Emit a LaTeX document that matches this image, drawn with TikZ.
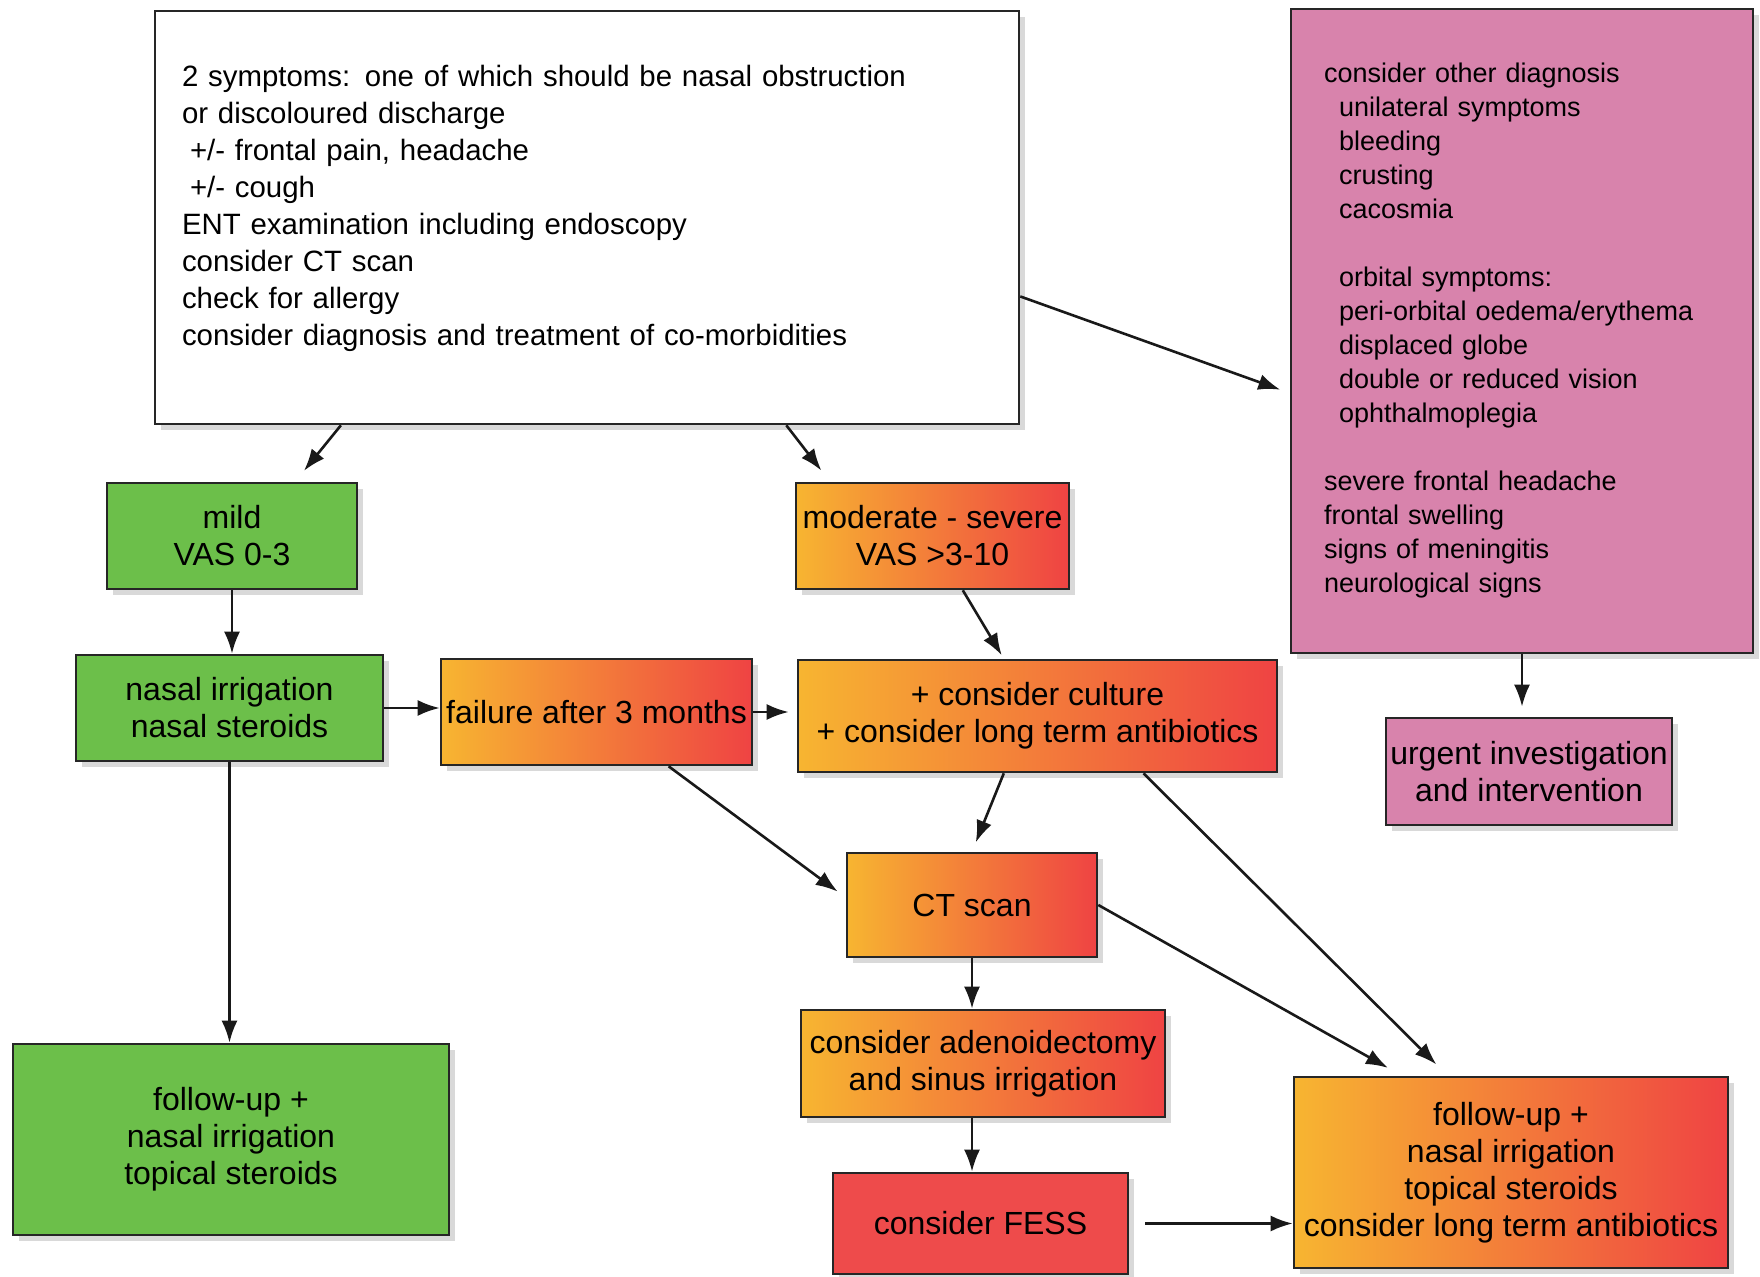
\documentclass[tikz,border=0pt]{standalone}
\usepackage{fontspec}
\setmainfont{Liberation Sans}
\usetikzlibrary{calc,arrows.meta,shadows}

\definecolor{leafgreen}{HTML}{6CBF4A}
\definecolor{warmamber}{HTML}{F7B531}
\definecolor{warmred}{HTML}{EF4343}
\definecolor{fessred}{HTML}{EE4B4B}
\definecolor{flagpink}{HTML}{D883AC}

\tikzset{
  box/.style={draw=black!85, line width=1.3pt, inner sep=0pt, align=center,
    font=\fontsize{16}{18.5}\selectfont,
    drop shadow={shadow xshift=3pt, shadow yshift=-3pt, opacity=0.3}},
  greenbox/.style={box, fill=leafgreen},
  warmbox/.style={box, left color=warmamber, right color=warmred},
  fessbox/.style={box, fill=fessred},
  pinkbox/.style={box, fill=flagpink},
  arr/.style={-{Latex[length=11pt,width=8pt]}, line width=1.3pt, draw=black!90}
}

\begin{document}
\begin{tikzpicture}[x=0.5pt,y=-0.5pt]
	%%%%% START %%%%%
	\useasboundingbox (0,0) rectangle (1760,1277);
	
	% assessment
	\node[box, fill=white, minimum width=432pt, minimum height=206.5pt, text width=405pt, align=left,
	  font=\fontsize{14.7}{18.5}\selectfont] (exam) at (587,217.5)
	  {2 symptoms: one of which should be nasal obstruction\\
	   or discoloured discharge\\
	   \hspace*{4pt}+/- frontal pain, headache\\
	   \hspace*{4pt}+/- cough\\
	   ENT examination including endoscopy\\
	   consider CT scan\\
	   check for allergy\\
	   consider diagnosis and treatment of co-morbidities\\[-6pt]\mbox{}};
	
	% red flags
	\node[pinkbox, minimum width=231pt, minimum height=322pt, text width=198pt, align=left,
	  font=\fontsize{13.5}{17}\selectfont] (redflag) at (1522,331)
	  {consider other diagnosis\\
	   \hspace*{7.5pt}unilateral symptoms\\
	   \hspace*{7.5pt}bleeding\\
	   \hspace*{7.5pt}crusting\\
	   \hspace*{7.5pt}cacosmia\\[17pt]
	   \hspace*{7.5pt}orbital symptoms:\\
	   \hspace*{7.5pt}peri-orbital oedema/erythema\\
	   \hspace*{7.5pt}displaced globe\\
	   \hspace*{7.5pt}double or reduced vision\\
	   \hspace*{7.5pt}ophthalmoplegia\\[17pt]
	   severe frontal headache\\
	   frontal swelling\\
	   signs of meningitis\\
	   neurological signs};
	\node[pinkbox, minimum width=143pt, minimum height=53.5pt] (urgent) at (1529,771.5)
	  {urgent investigation\\and intervention};
	
	% mild
	\node[greenbox, minimum width=125pt, minimum height=53pt] (mild) at (232,536) {mild\\VAS 0-3};
	\node[greenbox, minimum width=153.5pt, minimum height=53pt] (nasal) at (229.5,708)
	  {nasal irrigation\\nasal steroids};
	\node[greenbox, minimum width=218pt, minimum height=95.5pt] (fuL) at (231,1139.5)
	  {follow-up +\\nasal irrigation\\topical steroids};
	
	% moderate - severe
	\node[warmbox, minimum width=155.5pt, minimum height=53pt] (fail) at (596.5,712) {failure after 3 months};
	\node[warmbox, minimum width=136.5pt, minimum height=53pt] (moder) at (932.5,536)
	  {moderate - severe\\VAS >3-10};
	\node[warmbox, minimum width=239.5pt, minimum height=56pt] (cult) at (1037.5,716)
	  {+ consider culture\\+ consider long term antibiotics};
	\node[warmbox, minimum width=125pt, minimum height=52pt] (ct) at (972,905) {CT scan};
	\node[warmbox, minimum width=182pt, minimum height=53.5pt] (adeno) at (983,1063.5)
	  {consider adenoidectomy\\and sinus irrigation};
	\node[fessbox, minimum width=147.5pt, minimum height=50.5pt] (fess) at (980.5,1223.5) {consider FESS};
	\node[warmbox, minimum width=217pt, minimum height=95.5pt] (fuR) at (1511,1172.5)
	  {follow-up +\\nasal irrigation\\topical steroids\\consider long term antibiotics};
	
	% arrows
	\draw[arr, shorten >=7pt] ($(exam.south west)!.216!(exam.south east)$) -- ($(mild.north west)!.75!(mild.north east)$);
	\draw[arr, shorten >=7pt] ($(exam.south west)!.73!(exam.south east)$) -- ($(moder.north west)!.128!(moder.north east)$);
	\draw[arr, shorten >=5pt] ($(exam.north east)!.69!(exam.south east)$) -- ($(redflag.north west)!.596!(redflag.south west)$);
	\draw[arr] (mild.south) -- (mild.south |- nasal.north);
	\draw[arr] (nasal.east) -- (nasal.east -| fail.west);
	\draw[arr, shorten >=4pt] (fail.east) -- (fail.east -| cult.west);
	\draw[arr, shorten >=2pt] ($(moder.south west)!.61!(moder.south east)$) -- ($(cult.north west)!.43!(cult.north east)$);
	\draw[arr, shorten >=5pt] ($(fail.south west)!.73!(fail.south east)$) -- ($(ct.north west)!.43!(ct.south west)$);
	\draw[arr, shorten >=5pt] ($(cult.south west)!.43!(cult.south east)$) -- (ct.north);
	\draw[arr, shorten >=8pt] ($(cult.south west)!.72!(cult.south east)$) -- ($(fuR.north west)!.355!(fuR.north east)$);
	\draw[arr, shorten >=8pt] (ct.east) -- ($(fuR.north west)!.25!(fuR.north east)$);
	\draw[arr] (ct.south) -- (ct.south |- adeno.north);
	\draw[arr] (ct.south |- adeno.south) -- (ct.south |- fess.north);
	\draw[arr, shorten <=8pt] (fess.east) -- (fess.east -| fuR.west);
	\draw[arr, shorten >=5pt] (redflag.south) -- (redflag.south |- urgent.north);
	\draw[arr] (nasal.south) -- (nasal.south |- fuL.north);
	
	%%%%% END %%%%%
\end{tikzpicture}
\end{document}
